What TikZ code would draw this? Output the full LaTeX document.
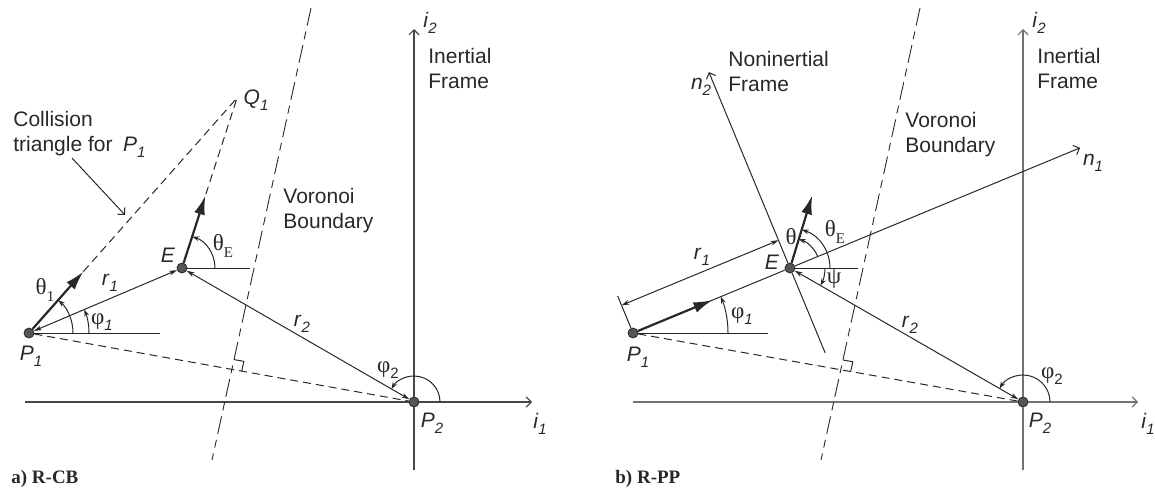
\documentclass[tikz,border=0pt]{standalone}
\usepackage{fontspec}
\setmainfont{Liberation Sans}
\newfontfamily\grk{Liberation Serif}
\usetikzlibrary{arrows.meta,calc}
\definecolor{inkgray}{RGB}{40,40,40}
\definecolor{axisgray}{RGB}{70,70,70}
\definecolor{axislight}{RGB}{115,115,115}
\definecolor{dotgray}{RGB}{85,85,85}
\newcommand\sub[1]{\raisebox{-0.55ex}{\fontsize{7.5}{8}\selectfont #1}}
\newcommand\vlab[2]{\textit{#1}\sub{\itshape #2}}
\newcommand\glab[2]{{\grk\fontsize{11.5}{12}\selectfont #1}\sub{#2}}

\begin{document}
\begin{tikzpicture}[x=0.5pt,y=0.5pt,font=\fontsize{10.5}{12.5}\selectfont,line join=round,ln/.style={draw=inkgray,line width=0.5pt},dashln/.style={ln,dash pattern=on 4pt off 2.5pt},voro/.style={ln,line width=0.45pt,dash pattern=on 9pt off 3pt on 4pt off 3pt},axisln/.style={line width=0.6pt},tip/.style={-{Straight Barb[length=2.5pt,width=5pt]}},dimln/.style={ln,{Stealth[length=4pt,width=2.4pt]}-{Stealth[length=4pt,width=2.4pt]}},vel/.style={draw=inkgray,line width=1.1pt,-{Latex[length=9.5pt,width=5.5pt]}},angarc/.style={ln,-{Stealth[length=3.5pt,width=2.4pt]}},dot/.style={circle,fill=dotgray,draw=inkgray,line width=0.4pt,minimum size=5pt,inner sep=0pt},lab/.style={inner sep=1pt,text=inkgray},txt/.style={inner sep=0pt,anchor=west,align=left,text=inkgray}]
\useasboundingbox (0,0) rectangle (1155,489);
% a) R-CB
\node[dot] (P1a) at (29,156) {};
\node[dot] (Ea) at (182,221) {};
\node[dot] (P2a) at (414,87) {};
\coordinate (Q1a) at (237,391);
\coordinate (i1sa) at (25,87); \coordinate (i1ea) at (532,87); \coordinate (i2sa) at (414,19); \coordinate (i2ea) at (414,460);
\coordinate (Vta) at (311,481); \coordinate (Vba) at (212,29);
\coordinate (hP1a) at (160,156); \coordinate (hEa) at (250,221);
\coordinate (vP1a) at ($(P1a)!41pt!(Q1a)$); \coordinate (vEa) at ($(Ea)!38pt!(Q1a)$);
\coordinate (cta) at (72,331); \coordinate (cha) at (125,274);
\draw[axisln,draw=axisgray] (i1sa) -- (P2a); \draw[axisln,draw=axisgray,tip] (P2a) -- (i1ea);
\draw[axisln,draw=axisgray] (i2sa) -- (P2a); \draw[axisln,draw=axisgray,tip] (P2a) -- (i2ea);
\draw[voro] (Vta) -- (Vba);
\draw[dashln] (P1a) -- (P2a);
\coordinate (Xa) at (intersection of P1a--P2a and Vta--Vba);
\coordinate (ma1) at ($(Xa)!5pt!(P2a)$); \coordinate (ma3) at ($(Xa)!5pt!(Vta)$);
\draw[ln] (ma1) -- ($(ma1)+(ma3)-(Xa)$) -- (ma3);
\draw[dashln] (vP1a) -- (Q1a) -- (vEa);
\draw[vel] (P1a) -- (vP1a); \draw[vel] (Ea) -- (vEa);
\draw[dimln] (P1a) -- (Ea); \draw[dimln] (P2a) -- (Ea);
\draw[ln] (P1a) -- (hP1a); \draw[ln] (Ea) -- (hEa);
\draw[angarc] ([shift={(0:22pt)}]P1a.center) arc[start angle=0,end angle=48.5,radius=22pt];
\draw[angarc] ([shift={(0:30pt)}]P1a.center) arc[start angle=0,end angle=23,radius=30pt];
\draw[angarc] ([shift={(0:16.5pt)}]Ea.center) arc[start angle=0,end angle=72,radius=16.5pt];
\draw[angarc] ([shift={(0:13pt)}]P2a.center) arc[start angle=0,end angle=150,radius=13pt];
\draw[ln,-{Straight Barb[length=2.5pt,width=5pt]}] (cta) -- (cha);
\node[lab] (Q1la) at (256,389) {\vlab{Q}{1}};
\node[txt] (colla) at (13,355) {Collision\\triangle for\enspace\vlab{P}{1}};
\node[lab] (th1a) at (45,199) {\glab{θ}{\grk 1}};
\node[lab] (r1a) at (110,206) {\vlab{r}{1}};
\node[lab] (ph1a) at (102,167) {\glab{φ}{\itshape 1}};
\node[lab] (P1la) at (31,133) {\vlab{P}{1}};
\node[lab] (Ela) at (168,234) {\textit{E}};
\node[lab] (thEa) at (223,243) {\glab{θ}{\grk E}};
\node[txt] (vora) at (283,278) {Voronoi\\Boundary};
\node[lab] (r2a) at (302,165) {\vlab{r}{2}};
\node[lab] (ph2a) at (388,119) {\glab{φ}{2}};
\node[lab] (P2la) at (432,66) {\vlab{P}{2}};
\node[lab] (i1la) at (540,65) {\vlab{i}{1}};
\node[lab] (i2la) at (430,466) {\vlab{i}{2}};
\node[txt] (ifra) at (428,421) {Inertial\\Frame};
\node[txt] (capa) at (11,10) {\grk\bfseries\fontsize{9.5}{11}\selectfont a) R-CB};
% b) R-PP
\node[dot] (P1b) at (633,156) {};
\node[dot] (Eb) at (790,221) {};
\node[dot] (P2b) at (1023,87) {};
\coordinate (i1sb) at (633,87); \coordinate (i1eb) at (1138,87); \coordinate (i2sb) at (1023,19); \coordinate (i2eb) at (1023,460);
\coordinate (Vtb) at (920,481); \coordinate (Vbb) at (821,29);
\coordinate (n1e) at ($(Eb)+(22.5:314)$); \coordinate (n2e) at ($(Eb)+(112.5:212)$); \coordinate (n2s) at ($(Eb)+(-67.5:92)$);
\coordinate (hP1b) at (768,156); \coordinate (hEb) at (858,221);
\coordinate (vP1b) at ($(P1b)+(22.5:86)$); \coordinate (vEb) at ($(Eb)+(73:76)$);
\coordinate (d1s) at ($(P1b)+(112.5:30)$); \coordinate (d1e) at ($(Eb)+(112.5:30)$); \coordinate (x1b) at ($(P1b)+(112.5:40)$);
\draw[axisln,draw=axislight] (i1sb) -- (P2b); \draw[axisln,draw=axislight,tip] (P2b) -- (i1eb);
\draw[axisln,draw=axislight] (i2sb) -- (P2b); \draw[axisln,draw=axislight,tip] (P2b) -- (i2eb);
\draw[voro] (Vtb) -- (Vbb);
\draw[dashln] (P1b) -- (P2b);
\coordinate (Xb) at (intersection of P1b--P2b and Vtb--Vbb);
\coordinate (mb1) at ($(Xb)!5pt!(P2b)$); \coordinate (mb3) at ($(Xb)!5pt!(Vtb)$);
\draw[ln] (mb1) -- ($(mb1)+(mb3)-(Xb)$) -- (mb3);
\draw[ln] (P1b) -- (Eb); \draw[ln,tip] (Eb) -- (n1e);
\draw[ln] (n2s) -- (Eb); \draw[ln,tip] (Eb) -- (n2e);
\draw[vel] (P1b) -- (vP1b); \draw[vel] (Eb) -- (vEb);
\draw[ln] (P1b) -- (x1b); \draw[dimln] (d1s) -- (d1e);
\draw[dimln] (P2b) -- (Eb);
\draw[ln] (P1b) -- (hP1b); \draw[ln] (Eb) -- (hEb);
\draw[angarc] ([shift={(0:47.5pt)}]P1b.center) arc[start angle=0,end angle=22.5,radius=47.5pt];
\draw[angarc] ([shift={(22.5:15pt)}]Eb.center) arc[start angle=22.5,end angle=73,radius=15pt];
\draw[angarc] ([shift={(0:20pt)}]Eb.center) arc[start angle=0,end angle=73,radius=20pt];
\draw[angarc] ([shift={(0:17.5pt)}]Eb.center) arc[start angle=0,end angle=-30,radius=17.5pt];
\draw[angarc] ([shift={(0:13.5pt)}]P2b.center) arc[start angle=0,end angle=150,radius=13.5pt];
\node[lab] (n2lb) at (701,402) {\vlab{n}{2}};
\node[txt] (nfrb) at (728,418) {Noninertial\\Frame};
\node[lab] (i2lb) at (1039,466) {\vlab{i}{2}};
\node[txt] (ifrb) at (1037,421) {Inertial\\Frame};
\node[txt] (vorb) at (905,354) {Voronoi\\Boundary};
\node[lab] (n1lb) at (1093,326) {\vlab{n}{1}};
\node[lab] (r1b) at (702,232) {\vlab{r}{1}};
\node[lab] (Elb) at (772,227) {\textit{E}};
\node[lab] (thb) at (791,249) {\glab{θ}{}};
\node[lab] (thEb) at (835,257) {\glab{θ}{\grk E}};
\node[lab] (psb) at (834,209) {\glab{ψ}{}};
\node[lab] (ph1b) at (742,173) {\glab{φ}{\itshape 1}};
\node[lab] (P1lb) at (638,132) {\vlab{P}{1}};
\node[lab] (r2b) at (910,164) {\vlab{r}{2}};
\node[lab] (ph2b) at (1052,113) {\glab{φ}{2}};
\node[lab] (P2lb) at (1040,66) {\vlab{P}{2}};
\node[lab] (i1lb) at (1148,65) {\vlab{i}{1}};
\node[txt] (capb) at (615,10) {\grk\bfseries\fontsize{9.5}{11}\selectfont b) R-PP};
\end{tikzpicture}
\end{document}
